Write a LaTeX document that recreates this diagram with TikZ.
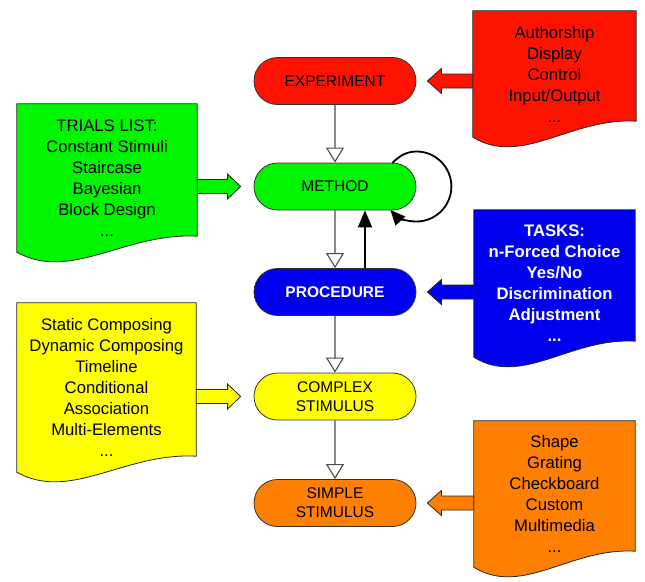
\documentclass[tikz,border=0pt]{standalone}
\usepackage{fontspec}
\setmainfont{Liberation Sans}
\usetikzlibrary{shapes.misc,arrows.meta,calc,backgrounds}
\definecolor{cred}{RGB}{255,18,0}
\definecolor{cgreen}{RGB}{0,245,0}
\definecolor{cblue}{RGB}{0,0,240}
\definecolor{cyellow}{RGB}{255,255,0}
\definecolor{corange}{RGB}{255,128,0}
\newcommand\docshape[2]{%
  \draw[blk, fill=#2] (#1.south west) -- (#1.north west) -- (#1.north east)
    -- ($(#1.south east)+(0,-16)$)
    .. controls ($(#1.south west)!0.6!(#1.south east)+(0,-20)$) and ($(#1.south west)!0.3!(#1.south east)+(0,30)$) .. (#1.south west) -- cycle;}
\newcommand\blkL[3]{%
  \draw[blk, fill=#3] let \p1=(#1.west), \p2=(#2.east) in
   (\x1,\y2+7pt) -- (\x2+25pt,\y2+7pt) -- (\x2+25pt,\y2+12.5pt) -- (\x2+11pt,\y2)
   -- (\x2+25pt,\y2-12.5pt) -- (\x2+25pt,\y2-7pt) -- (\x1,\y2-7pt) -- cycle;}
\newcommand\blkR[3]{%
  \draw[blk, fill=#3] let \p1=(#1.east), \p2=(#2.west) in
   (\x1,\y2+7pt) -- (\x2-26pt,\y2+7pt) -- (\x2-26pt,\y2+12.5pt) -- (\x2-13pt,\y2)
   -- (\x2-26pt,\y2-12.5pt) -- (\x2-26pt,\y2-7pt) -- (\x1,\y2-7pt) -- cycle;}
\begin{document}
\begin{tikzpicture}[x=1pt,y=-1pt,
  stad/.style={rounded rectangle, draw=black!80, line width=0.8pt, minimum width=162pt,
    minimum height=47pt, inner sep=0pt, align=center, font=\fontsize{15.5}{19}\selectfont},
  docbox/.style={inner sep=0pt, align=center, font=\fontsize{16.7}{21}\selectfont},
  downarr/.style={draw=black!70, line width=1.1pt,
    -{Triangle[open, length=15pt, width=18pt, fill=white]}},
  uparr/.style={draw=black, line width=1.8pt, -{Triangle[length=17pt, width=14pt]}},
  looparr/.style={draw=black, line width=1.8pt, -{Triangle[length=15pt, width=13pt]}},
  blk/.style={draw=black!85, line width=0.8pt, line join=miter}]
\useasboundingbox (0,0) rectangle (645,581);

% main chain
\node[stad, fill=cred] (exp) at (335,81) {EXPERIMENT};
\node[stad, fill=cgreen] (meth) at (335,186.5) {METHOD};
\node[stad, fill=cblue, text=white, font=\fontsize{15.5}{19}\selectfont\bfseries] (proc) at (335,292) {PROCEDURE};
\node[stad, fill=cyellow] (cplx) at (335,396.5) {COMPLEX\\STIMULUS};
\node[stad, fill=corange] (simp) at (335,503) {SIMPLE\\STIMULUS};

% documents
\node[docbox, minimum width=163pt, minimum height=126pt] (dred) at (554.5,74)
  {Authorship\\Display\\Control\\Input/Output\\...};
\node[docbox, minimum width=180pt, minimum height=148pt] (dgreen) at (107,178)
  {TRIALS LIST:\\Constant Stimuli\\Staircase\\Bayesian\\Block Design\\...};
\node[docbox, minimum width=161pt, minimum height=147pt, text=white,
  font=\fontsize{16.7}{21}\selectfont\bfseries] (dblue) at (554.5,283.5)
  {TASKS:\\n-Forced Choice\\Yes/No\\Discrimination\\Adjustment\\...};
\node[docbox, minimum width=179pt, minimum height=169pt] (dyellow) at (106.5,387.5)
  {Static Composing\\Dynamic Composing\\Timeline\\Conditional\\Association\\Multi-Elements\\...};
\node[docbox, minimum width=161pt, minimum height=146pt] (dorange) at (554.5,494)
  {Shape\\Grating\\Checkboard\\Custom\\Multimedia\\...};

\begin{scope}[on background layer]
  \docshape{dred}{cred}
  \docshape{dgreen}{cgreen}
  \docshape{dblue}{cblue}
  \docshape{dyellow}{cyellow}
  \docshape{dorange}{corange}
\end{scope}

% block arrows
\blkL{dred}{exp}{cred}
\blkR{dgreen}{meth}{cgreen}
\blkL{dblue}{proc}{cblue}
\blkR{dyellow}{cplx}{cyellow}
\blkL{dorange}{simp}{corange}

% connectors
\draw[downarr] (exp) -- (meth);
\draw[downarr] (meth) -- (proc);
\draw[downarr] (proc) -- (cplx);
\draw[downarr] (cplx) -- (simp);
\draw[uparr] ([xshift=30pt]proc.north) -- ([xshift=30pt]meth.south);
\draw[looparr] ($(meth.east)+(-24,-23.5)$)
  .. controls ($(meth.east)+(-17.4,-30.5)$) and ($(meth.east)+(-9.6,-35)$) .. ($(meth.east)+(0,-35)$)
  .. controls ($(meth.east)+(19.3,-35)$) and ($(meth.east)+(35,-19.3)$) .. ($(meth.east)+(35,0)$)
  .. controls ($(meth.east)+(35,19.3)$) and ($(meth.east)+(19.3,35)$) .. ($(meth.east)+(0,35)$)
  .. controls ($(meth.east)+(-9.9,35)$) and ($(meth.east)+(-19.4,30.8)$) .. ($(meth.east)+(-26,23.5)$);
\end{tikzpicture}
\end{document}
